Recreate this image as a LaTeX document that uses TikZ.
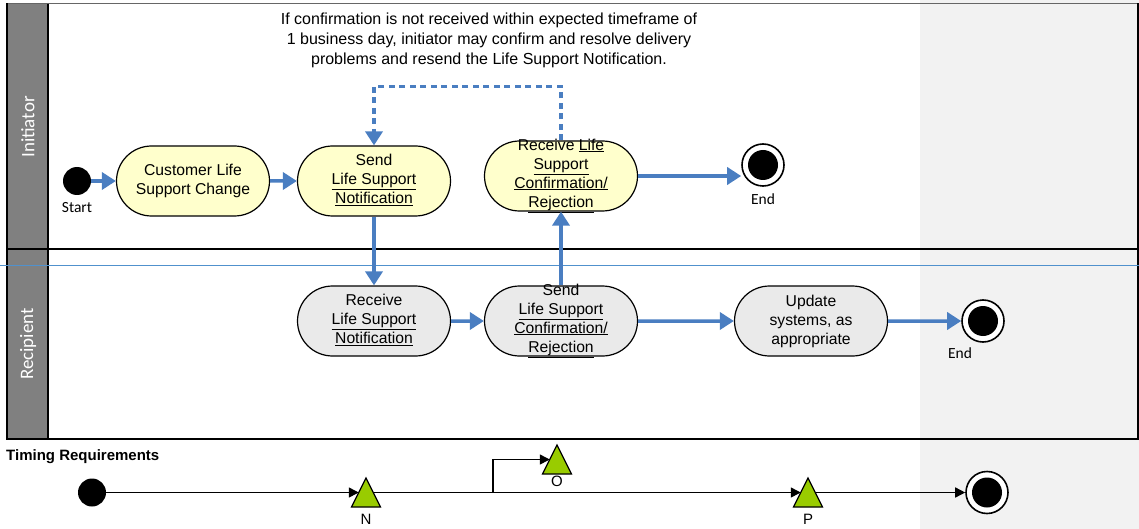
\documentclass[tikz,border=0pt]{standalone}
\usepackage{fontspec}
\setmainfont{Liberation Sans}
\newfontfamily\calibrifont{Carlito}
\usetikzlibrary{shapes.misc,shapes.geometric,arrows.meta}
\definecolor{flowblue}{RGB}{74,126,193}
\definecolor{thinblue}{RGB}{80,145,205}
\definecolor{actyellow}{RGB}{255,255,204}
\definecolor{actgray}{RGB}{234,234,234}
\definecolor{headgray}{RGB}{128,128,128}
\definecolor{sidegray}{RGB}{242,242,242}
\definecolor{trigreen}{RGB}{153,204,0}
\tikzset{
  act/.style={rounded rectangle, draw=black, line width=1.2pt, minimum width=153pt, minimum height=70pt, inner sep=0pt},
  acttext/.style={align=center, font=\fontsize{15.7}{19}\selectfont, inner sep=0pt},
  flow/.style={draw=flowblue, line width=3.5pt, -{Triangle[length=14pt,width=17pt]}},
  dflow/.style={draw=flowblue, line width=3.5pt, dash pattern=on 6pt off 4.5pt, -{Triangle[length=14pt,width=17pt]}},
  startdot/.style={circle, fill=black, minimum size=28pt, inner sep=0pt},
  endring/.style={circle, draw=black, fill=white, line width=1.6pt, minimum size=42pt, inner sep=0pt},
  enddot/.style={circle, fill=black, minimum size=30pt, inner sep=0pt},
  smalllab/.style={font=\calibrifont\fontsize{15.5}{15.5}\selectfont, inner sep=0pt},
  lanehead/.style={rotate=90, text=white, font=\calibrifont\fontsize{19}{19}\selectfont, inner sep=0pt},
  milestone/.style={isosceles triangle, isosceles triangle stretches, shape border rotate=90, minimum width=29pt, minimum height=29pt, draw=black, fill=trigreen, line width=1.2pt, inner sep=0pt, outer sep=0pt, anchor=apex},
  tline/.style={draw=black, line width=1.5pt, -{Triangle[length=10pt,width=10pt]}},
  tlab/.style={font=\fontsize{15}{15}\selectfont, inner sep=0pt}
}
\begin{document}
\begin{tikzpicture}[x=1pt,y=-1pt]
\useasboundingbox (0,0) rectangle (1139,529);
% backgrounds and lanes
\fill[sidegray] (920,0) rectangle (1139,529);
\fill[headgray] (7,4) rectangle (48,439);
\draw[line width=1.5pt, draw=black!60] (7,3.5) -- (1138,3.5);
\draw[line width=1.8pt] (7,3.5) -- (7,439) -- (1138,439) -- (1138,3.5);
\draw[line width=2pt] (7,249) -- (1138,249);
\draw[line width=2pt] (48,4) -- (48,439);
\draw[thinblue, line width=0.8pt] (0,265) -- (1139,265);
\node[lanehead] (hinit) at (28,127) {Initiator};
\node[lanehead] (hrec) at (28,344) {Recipient};
% note
\node[align=center, font=\fontsize{16}{20}\selectfont, inner sep=0pt] (note) at (489,40) {If confirmation is not received within expected timeframe of\\1 business day, initiator may confirm and resolve delivery\\problems and resend the Life Support Notification.};
% initiator lane
\node[startdot] (start) at (77,181) {};
\node[smalllab] (startlab) at (77,208) {Start};
\node[act, fill=actyellow] (cust) at (193,181) {};
\node[acttext] (custt) at (cust) {Customer Life\\Support Change};
\node[act, fill=actyellow] (send) at (374,181) {};
\node[acttext] (sendt) at (374,180) {Send\\\underline{Life Support}\\\underline{Notification}};
\node[act, fill=actyellow] (recv) at (561,176) {};
\node[acttext] (recvt) at (561,175.5) {Receive \underline{Life}\\\underline{Support}\\\underline{Confirmation/}\\\underline{Rejection}};
\node[endring] (endA) at (763,165) {};
\node[enddot] (endAd) at (endA) {};
\node[smalllab] (endAlab) at (763,199) {End};
% recipient lane
\node[act, fill=actgray] (rnot) at (374,321) {};
\node[acttext] (rnott) at (374,320) {Receive\\\underline{Life Support}\\\underline{Notification}};
\node[act, fill=actgray] (sconf) at (561,321) {};
\node[acttext] (sconft) at (561,320.5) {Send\\\underline{Life Support}\\\underline{Confirmation/}\\\underline{Rejection}};
\node[act, fill=actgray] (upd) at (811,321) {};
\node[acttext] (updt) at (upd) {Update\\systems, as\\appropriate};
\node[endring] (endB) at (983,321) {};
\node[enddot] (endBd) at (endB) {};
\node[smalllab] (endBlab) at (960,353) {End};
% flows
\draw[flow] (start) -- (cust);
\draw[flow] (cust) -- (send);
\draw[flow] (send) -- (rnot);
\draw[flow] (rnot) -- (sconf);
\draw[flow] (sconf) -- (recv);
\draw[flow] (sconf) -- (upd);
\draw[flow] (upd) -- (endB);
\draw[flow] (recv.east) -- (recv.east -| endA.west);
\draw[dflow] (recv.north) -- ++(0,-54) -| (send.north);
% timing
\node[anchor=west, font=\bfseries\fontsize{15}{15}\selectfont, inner sep=0pt] (treq) at (6,457) {Timing Requirements};
\node[startdot] (tstart) at (92,492.5) {};
\node[milestone] (msN) at (366,478) {};
\node[milestone] (msO) at (557,445) {};
\node[milestone] (msP) at (808,478) {};
\node[endring] (tend) at (987,492.5) {};
\node[enddot] (tendd) at (tend) {};
\node[tlab] (labN) at (366,519) {N};
\node[tlab] (labO) at (557,481) {O};
\node[tlab] (labP) at (808,519) {P};
\coordinate (br) at (493,492.5);
\draw[tline] (tstart) -- (msN.left side);
\draw[tline] (msN.right side) -- (msP.left side);
\draw[tline] (br) |- (msO.left side);
\draw[tline] (msP.right side) -- (tend);
\end{tikzpicture}
\end{document}
